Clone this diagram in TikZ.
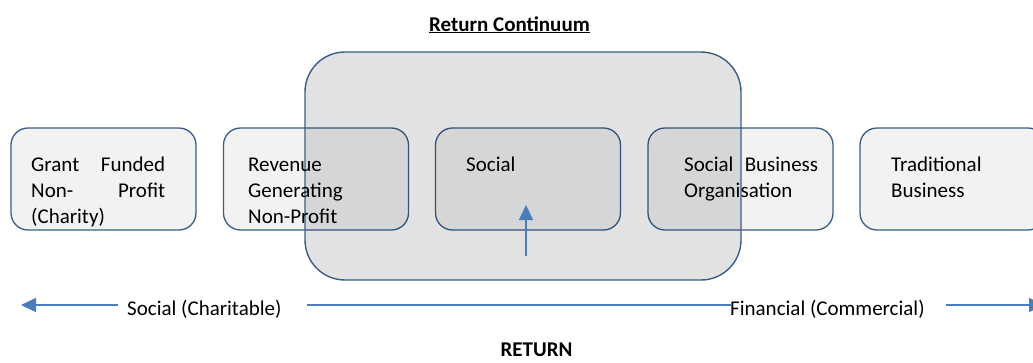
\documentclass[tikz,border=0pt]{standalone}
\usepackage{fontspec}
\setmainfont{Carlito}
\usetikzlibrary{arrows.meta,calc}
\definecolor{boxborder}{HTML}{385D8A}
\definecolor{boxfill}{HTML}{F2F2F2}
\definecolor{arrowblue}{HTML}{4A7EBB}
\begin{document}
\begin{tikzpicture}[x=1pt,y=-1pt,
  smallbox/.style={draw=boxborder,line width=1.3pt,fill=boxfill,rounded corners=17pt,
    minimum width=185pt,minimum height=102pt,inner sep=0pt},
  bigbox/.style={draw=boxborder,line width=1.4pt,fill=black,fill opacity=0.115,draw opacity=1,
    rounded corners=40pt,minimum width=436pt,minimum height=228pt,inner sep=0pt},
  boxtext/.style={anchor=north west,inner sep=0pt,align=left,
    font=\fontsize{21}{25.7}\selectfont},
  plaintext/.style={inner sep=0pt,font=\fontsize{21}{25.7}\selectfont},
  bluearrow/.style={draw=arrowblue,line width=1.6pt,-{Triangle[length=15pt,width=14pt]}},
  blueline/.style={draw=arrowblue,line width=1.6pt}]
\useasboundingbox (0,0) rectangle (1033,362);
\clip (0,0) rectangle (1033,362);

\node[plaintext,anchor=base,font=\fontsize{21}{25.7}\selectfont\bfseries] (title) at (509.5,31) {\underline{Return Continuum}};

\node[smallbox] (b1) at (103.5,179) {};
\node[smallbox] (b2) at (316,179) {};
\node[smallbox] (b3) at (528,179) {};
\node[smallbox] (b4) at (740.5,179) {};
\node[smallbox] (b5) at (952.5,179) {};

\node[bigbox] (big) at (523,166) {};

\node[boxtext] (t1) at (31,153.7) {\strut\hbox to 134pt{Grant\hfill Funded}\\\hbox to 134pt{Non-\hfill Profit}\\(Charity)};
\node[boxtext] (t2) at (248,153.7) {\strut Revenue\\Generating\\Non-Profit};
\node[boxtext] (t3) at (466,153.7) {\strut Social};
\node[boxtext] (t4) at (684,153.7) {\strut\hbox to 134pt{Social\hfill Business}\\Organisation};
\node[boxtext] (t5) at (891,153.7) {\strut Traditional\\Business};

\coordinate (upfrom) at (526,256);
\coordinate (upto) at (526,205);
\draw[bluearrow] (upfrom) -- (upto);

\node[plaintext,anchor=base west] (soc) at (127,315.5) {Social (Charitable)};
\node[plaintext,anchor=base west] (fin) at (730,315.5) {Financial (Commercial)};

\coordinate (l1) at (118,305);
\coordinate (l0) at (21,305);
\coordinate (m0) at (307,305);
\coordinate (m1) at (731,305);
\coordinate (r0) at (946,305);
\coordinate (r1) at (1044,305);
\draw[bluearrow] (l1) -- (l0);
\draw[blueline] (m0) -- (m1);
\draw[bluearrow] (r0) -- (r1);

\node[plaintext,anchor=base,font=\fontsize{21}{25.7}\selectfont\bfseries] (ret) at (536.5,356.5) {RETURN};
\end{tikzpicture}
\end{document}
